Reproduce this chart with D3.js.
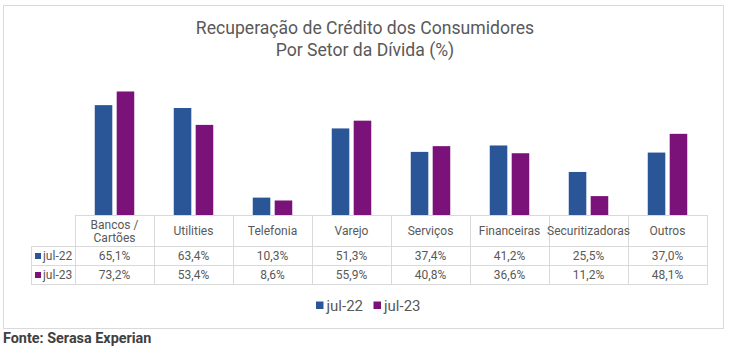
<!DOCTYPE html>
<html><head><meta charset="utf-8">
<script src="https://cdn.jsdelivr.net/npm/d3@7"></script>
<style>
html,body{margin:0;padding:0;background:#fff;}
svg{display:block;font-family:Roboto,"Liberation Sans",sans-serif;}
</style></head>
<body>
<svg id="c" width="730" height="355"></svg>
<script>
const categories = ["Bancos / Cartões","Utilities","Telefonia","Varejo","Serviços","Financeiras","Securitizadoras","Outros"];
const headerLines = [["Bancos /","Cartões"],["Utilities"],["Telefonia"],["Varejo"],["Serviços"],["Financeiras"],["Securitizadoras"],["Outros"]];
const seriesNames = ["jul-22","jul-23"];
const jul22 = [65.1,63.4,10.3,51.3,37.4,41.2,25.5,37.0];
const jul23 = [73.2,53.4,8.6,55.9,40.8,36.6,11.2,48.1];
const seriesValues = [jul22, jul23];
const colors = ["#2a5597","#7a1279"];
const title = ["Recuperação de Crédito dos Consumidores","Por Setor da Dívida (%)"];
const source = "Fonte: Serasa Experian";

const svg = d3.select("#c");
const txt = "#595959", grid = "#d9d9d9";

// outer frame
svg.append("rect").attr("x",3.5).attr("y",5.5).attr("width",720).attr("height",323)
  .attr("fill","none").attr("stroke",grid).attr("stroke-width",1);

// title
svg.append("text").attr("x",365).attr("y",34).attr("text-anchor","middle")
  .attr("font-size",17.6).attr("fill",txt).text(title[0]);
svg.append("text").attr("x",365).attr("y",56).attr("text-anchor","middle")
  .attr("font-size",17.6).attr("fill",txt).text(title[1]);

const x = d3.scaleBand().domain(categories).range([75,707]).paddingInner(0).paddingOuter(0);
const x1 = d3.scaleBand().domain(seriesNames).range([0,x.bandwidth()]).paddingInner(0.2).paddingOuter(0.9);
const y = d3.scaleLinear().domain([0,80]).range([215,80]);

const fmt = v => d3.format(".1f")(v).replace(".",",") + "%";

// bars
seriesNames.forEach((s,si)=>{
  svg.append("g").selectAll("rect").data(seriesValues[si]).join("rect")
    .attr("x",(d,i)=>x(categories[i])+x1(s))
    .attr("width",x1.bandwidth())
    .attr("y",d=>y(d))
    .attr("height",d=>y(0)-y(d))
    .attr("fill",colors[si]);
});

// table
const rowTop = [215, 246.5, 265.5, 284.5];
const tbl = svg.append("g").attr("stroke",grid).attr("stroke-width",1).attr("shape-rendering","crispEdges");
tbl.append("line").attr("x1",75).attr("x2",707).attr("y1",rowTop[0]).attr("y2",rowTop[0]);
[1,2,3].forEach(r=>tbl.append("line").attr("x1",31).attr("x2",707).attr("y1",rowTop[r]).attr("y2",rowTop[r]));
const xs = categories.map(c=>x(c)).concat([x.range()[1]]);
xs.forEach(v=>tbl.append("line").attr("x1",v).attr("x2",v).attr("y1",rowTop[0]).attr("y2",rowTop[3]));
tbl.append("line").attr("x1",31).attr("x2",31).attr("y1",rowTop[1]).attr("y2",rowTop[3]);

// header text
categories.forEach((c,i)=>{
  const cx = x(c)+x.bandwidth()/2;
  const lines = headerLines[i];
  const mid = (rowTop[0]+rowTop[1])/2;
  lines.forEach((l,j)=>{
    svg.append("text").attr("x",cx).attr("y",mid + (j-(lines.length-1)/2)*13 + 4.3)
      .attr("text-anchor","middle").attr("font-size",12).attr("fill",txt).text(l);
  });
});
// values
seriesNames.forEach((s,si)=>{
  const mid = (rowTop[si+1]+rowTop[si+2])/2;
  svg.append("rect").attr("x",35).attr("y",mid-3).attr("width",6).attr("height",6).attr("fill",colors[si]);
  svg.append("text").attr("x",43).attr("y",mid+4.3).attr("font-size",12).attr("fill",txt).text(s);
  seriesValues[si].forEach((v,i)=>{
    svg.append("text").attr("x",x(categories[i])+x.bandwidth()/2).attr("y",mid+4.3)
      .attr("text-anchor","middle").attr("font-size",12).attr("fill",txt).text(fmt(v));
  });
});

// legend
const leg = [{x:316},{x:373.5}];
seriesNames.forEach((s,si)=>{
  svg.append("rect").attr("x",leg[si].x).attr("y",301.5).attr("width",7.5).attr("height",7.5).attr("fill",colors[si]);
  svg.append("text").attr("x",leg[si].x+10.5).attr("y",311).attr("font-size",15).attr("fill",txt).text(s);
});

// source
svg.append("text").attr("x",3).attr("y",343).attr("font-size",14.4).attr("font-weight","bold")
  .attr("fill","#404040").text(source);
</script>
</body></html>
